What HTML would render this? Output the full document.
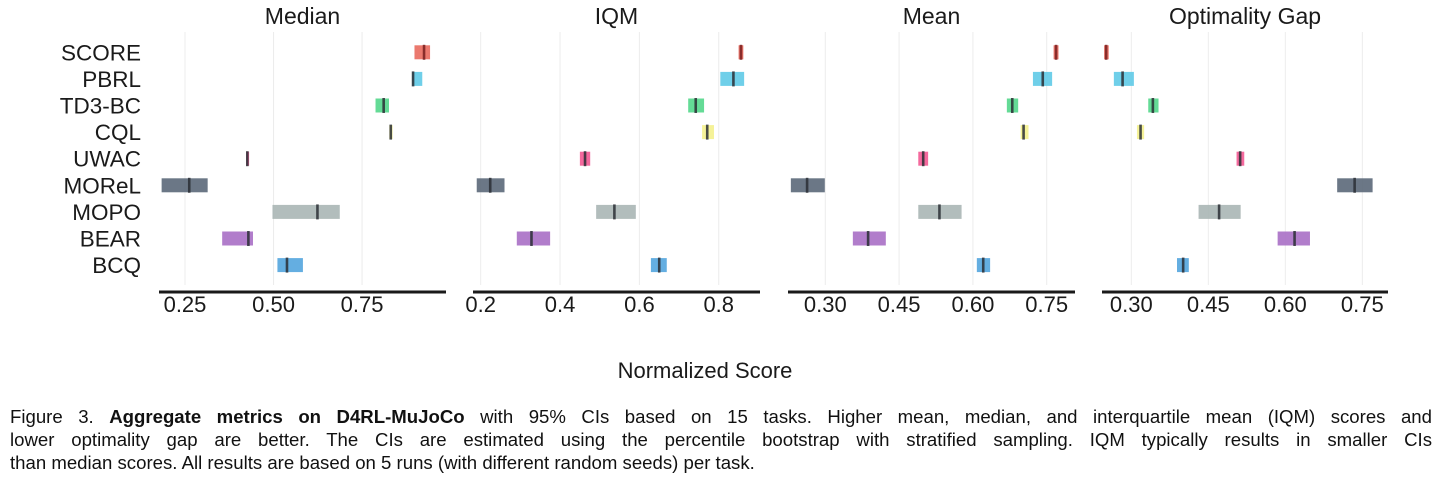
<!DOCTYPE html>
<html><head><meta charset="utf-8"><style>
html,body{margin:0;padding:0;background:#fff;width:1440px;height:484px;overflow:hidden}
svg text{font-family:"Liberation Sans",Arial,sans-serif;fill:#1a1a1a}
#cap{position:absolute;left:10px;top:405px;width:1422px;font-family:"Liberation Sans",Arial,sans-serif;font-size:18.6px;line-height:23px;color:#111}
#cap div{text-align:justify;text-align-last:justify;white-space:nowrap}
#cap div.last{text-align-last:left}
</style></head><body>
<svg id="chart" width="1440" height="400" style="position:absolute;left:0;top:0"></svg>
<div id="cap">
<div>Figure 3. <b>Aggregate metrics on D4RL-MuJoCo</b> with 95% CIs based on 15 tasks. Higher mean, median, and interquartile mean (IQM) scores and</div>
<div>lower optimality gap are better. The CIs are estimated using the percentile bootstrap with stratified sampling. IQM typically results in smaller CIs</div>
<div class="last">than median scores. All results are based on 5 runs (with different random seeds) per task.</div>
</div>
<script>
const methods=["SCORE","PBRL","TD3-BC","CQL","UWAC","MOReL","MOPO","BEAR","BCQ"];
const colors=["#e8675a","#5bc8e6","#4fd687","#f4f08a","#f25490","#566475","#a7b4b3","#a66bc4","#4fa3dd"];
const panelTitles=["Median","IQM","Mean","Optimality Gap"];
const medianLo=[0.898,0.891,0.788,0.827,0.423,0.184,0.497,0.355,0.511];
const medianHi=[0.942,0.920,0.826,0.836,0.431,0.314,0.687,0.442,0.583];
const medianPt=[0.925,0.894,0.811,0.831,0.426,0.262,0.624,0.429,0.538];
const iqmLo=[0.850,0.804,0.723,0.758,0.450,0.190,0.491,0.291,0.629];
const iqmHi=[0.862,0.864,0.763,0.788,0.476,0.260,0.591,0.375,0.669];
const iqmPt=[0.856,0.837,0.742,0.771,0.463,0.224,0.537,0.328,0.650];
const meanLo=[0.764,0.722,0.669,0.697,0.489,0.230,0.489,0.356,0.608];
const meanHi=[0.774,0.761,0.692,0.713,0.509,0.299,0.577,0.423,0.635];
const meanPt=[0.769,0.742,0.680,0.703,0.499,0.263,0.532,0.387,0.621];
const gapLo=[0.247,0.266,0.333,0.311,0.505,0.701,0.431,0.585,0.389];
const gapHi=[0.256,0.305,0.353,0.325,0.520,0.770,0.513,0.648,0.412];
const gapPt=[0.251,0.283,0.342,0.318,0.512,0.735,0.471,0.618,0.401];
const tickVals=[[0.25,0.50,0.75],[0.2,0.4,0.6,0.8],[0.30,0.45,0.60,0.75],[0.30,0.45,0.60,0.75]];
const tickLabels=[["0.25","0.50","0.75"],["0.2","0.4","0.6","0.8"],["0.30","0.45","0.60","0.75"],["0.30","0.45","0.60","0.75"]];
const domains=[[0.1766,0.987],[0.1806,0.904],[0.2242,0.8075],[0.2429,0.800]];
const panelLo=[medianLo,iqmLo,meanLo,gapLo],panelHi=[medianHi,iqmHi,meanHi,gapHi],panelPt=[medianPt,iqmPt,meanPt,gapPt];
const ranges=[[159,446],[473,760],[788,1075],[1102,1388]];
const NS="http://www.w3.org/2000/svg";
const svg=document.getElementById("chart");
function mk(tag,attrs,parent){const e=document.createElementNS(NS,tag);for(const k in attrs)e.setAttribute(k,attrs[k]);(parent||svg).appendChild(e);return e;}
const y0=52.3,dy=26.6;
function yPos(i){return y0+i*dy;}
methods.forEach((m,i)=>{
  const t=mk("text",{x:141,y:yPos(i)+8,"text-anchor":"end","font-size":"22.5"});
  
  
  t.textContent=m;
});
for(let p=0;p<4;p++){
  const [r0,r1]=ranges[p],[d0,d1]=domains[p];
  const xs=v=>r0+(v-d0)/(d1-d0)*(r1-r0);
  const g=mk("g",{});
  
  
  const tt=mk("text",{x:(r0+r1)/2,y:24,"text-anchor":"middle","font-size":"23"},g);
  
  
  tt.textContent=panelTitles[p];
  tickVals[p].forEach((v,k)=>{
    const gl=mk("line",{x1:xs(v),x2:xs(v),y1:32,y2:285,stroke:"#ececec","stroke-width":1},g);
    
    
    const tl=mk("text",{x:xs(v),y:312,"text-anchor":"middle","font-size":"22"},g);
    
    
    tl.textContent=tickLabels[p][k];
  });
  const ax=mk("line",{x1:r0,x2:r1,y1:292,y2:292,stroke:"#1a1a1a","stroke-width":3},g);
  
  
  methods.forEach((m,i)=>{
    const lo=panelLo[p][i],hi=panelHi[p][i],pt=panelPt[p][i];
    const r=mk("rect",{x:xs(lo),y:yPos(i)-7,width:Math.max(2,xs(hi)-xs(lo)),height:14,fill:colors[i],opacity:0.88},g);
    
    
    const ml=mk("line",{x1:xs(pt),x2:xs(pt),y1:yPos(i)-7.5,y2:yPos(i)+7.5,stroke:i===0?"#7a1f1f":"#2b2f35","stroke-width":2.6,opacity:0.85},g);
    
    
  });
}
const xl=mk("text",{x:705,y:378,"text-anchor":"middle","font-size":"22"});


xl.textContent="Normalized Score";
</script>
</body></html>
